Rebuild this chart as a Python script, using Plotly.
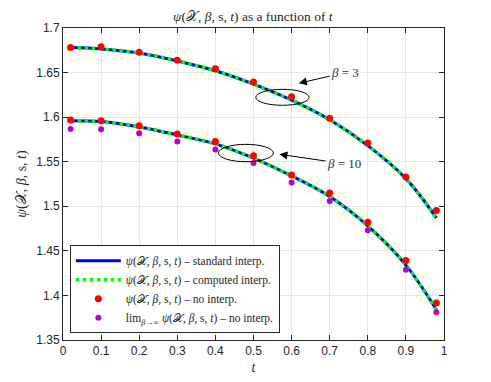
import plotly.graph_objects as go

# sample positions of the markers and of the curve read-off points
t_pts = [0.02, 0.1, 0.2, 0.3, 0.4, 0.5, 0.6, 0.7, 0.8, 0.9, 0.98]

# beta = 3
curve_b3 = [1.678, 1.6765, 1.672, 1.663, 1.652, 1.637, 1.619, 1.597, 1.568, 1.531, 1.487]
noint_b3 = [1.678, 1.679, 1.6727, 1.6637, 1.6543, 1.6394, 1.623, 1.5987, 1.571, 1.5328, 1.4954]

# beta = 10
curve_b10 = [1.596, 1.595, 1.589, 1.580, 1.570, 1.554, 1.534, 1.511, 1.478, 1.434, 1.384]
noint_b10 = [1.5967, 1.596, 1.5904, 1.581, 1.5728, 1.5567, 1.535, 1.5148, 1.482, 1.4393, 1.3914]

# beta -> infinity limit
limit_pts = [1.5867, 1.5863, 1.5818, 1.5728, 1.5638, 1.5485, 1.5268, 1.5058, 1.473, 1.4287, 1.381]

psi = "<i>ψ</i>(𝒳, <i>β</i>, s, <i>t</i>)"
serif = "Liberation Serif"

fig = go.Figure()

for i, curve in enumerate([curve_b3, curve_b10]):
    fig.add_trace(go.Scatter(
        x=t_pts, y=curve, mode="lines", line=dict(color="#0000ff", width=3, shape="spline"),
        name=psi + " – standard interp.", legendgroup="std", showlegend=(i == 0)
    ))
for i, curve in enumerate([curve_b3, curve_b10]):
    fig.add_trace(go.Scatter(
        x=t_pts, y=curve, mode="lines",
        line=dict(color="#00ff00", width=3.5, dash="dot", shape="spline"),
        name=psi + " – computed interp.", legendgroup="comp", showlegend=(i == 0)
    ))
for i, pts in enumerate([noint_b3, noint_b10]):
    fig.add_trace(go.Scatter(
        x=t_pts, y=pts, mode="markers", marker=dict(color="#ff0000", size=7),
        name=psi + " – no interp.", legendgroup="noint", showlegend=(i == 0)
    ))
fig.add_trace(go.Scatter(
    x=t_pts, y=limit_pts, mode="markers", marker=dict(color="#bf00bf", size=6),
    name="lim<sub><i>β</i>→∞</sub> " + psi + " – no interp."
))

# ellipses marking the two curves
fig.add_shape(type="circle", xref="x", yref="y", x0=0.506, x1=0.646, y0=1.6133, y1=1.6312,
              line=dict(color="black", width=1))
fig.add_shape(type="circle", xref="x", yref="y", x0=0.408, x1=0.552, y0=1.550, y1=1.5695,
              line=dict(color="black", width=1))

# labels with arrows pointing at the ellipses
fig.add_annotation(x=0.619, y=1.638, ax=0.741, ay=1.650, xref="x", yref="y", axref="x", ayref="y",
                   text="<i>β</i> = 3", showarrow=True, arrowhead=2, arrowsize=1.6, arrowwidth=1,
                   arrowcolor="black", bgcolor="white",
                   font=dict(family=serif, size=13, color="#333333"))
fig.add_annotation(x=0.568, y=1.5583, ax=0.738, ay=1.5478, xref="x", yref="y", axref="x", ayref="y",
                   text="<i>β</i> = 10", showarrow=True, arrowhead=2, arrowsize=1.6, arrowwidth=1,
                   arrowcolor="black", bgcolor="white",
                   font=dict(family=serif, size=13, color="#333333"))

axis_style = dict(
    showgrid=True, gridcolor="#e6e6e6", gridwidth=1, zeroline=False,
    showline=True, linecolor="#262626", linewidth=1, mirror="ticks",
    ticks="inside", ticklen=5, tickcolor="#262626", automargin=False,
    tickfont=dict(family="Liberation Sans", size=12, color="#262626"),
)

fig.update_xaxes(range=[0, 1], dtick=0.1, tick0=0,
                 title=dict(text="<i>t</i>", font=dict(family=serif, size=14, color="#262626"), standoff=4),
                 **axis_style)
fig.update_yaxes(range=[1.35, 1.7], dtick=0.05, tick0=1.35,
                 title=dict(text=psi, font=dict(family=serif, size=14, color="#262626"), standoff=6),
                 **axis_style)

# page body adds an 8px offset, so the figure is 8px smaller than the window
fig.update_layout(
    width=483, height=374,
    margin=dict(l=55, r=47, t=20, b=42),
    paper_bgcolor="white", plot_bgcolor="white",
    title=dict(text=psi + " as a function of <i>t</i>", x=0.507, xanchor="center", y=0.977, yanchor="middle",
               font=dict(family=serif, size=13.5, color="#262626")),
    legend=dict(x=0.018, y=0.022, xanchor="left", yanchor="bottom",
                bgcolor="white", bordercolor="#262626", borderwidth=1,
                font=dict(family=serif, size=11.5, color="#262626"),
                tracegroupgap=0, itemwidth=45, entrywidth=235),
    showlegend=True,
)

fig.write_html("out.html")
